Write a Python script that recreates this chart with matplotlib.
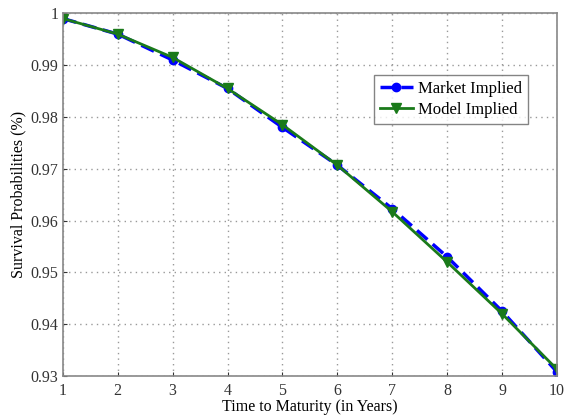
import matplotlib
matplotlib.use('Agg')
import matplotlib.pyplot as plt

# 数据：存活概率
years = [1, 2, 3, 4, 5, 6, 7, 8, 9, 10]
market = [0.9990, 0.9960, 0.9910, 0.9855, 0.9780, 0.9707, 0.9623, 0.9530, 0.9425, 0.9308]
model = [0.9990, 0.9960, 0.9915, 0.9855, 0.9785, 0.9707, 0.9617, 0.9520, 0.9420, 0.9313]
yticks = [0.93, 0.94, 0.95, 0.96, 0.97, 0.98, 0.99, 1]
ylabels = ['0.93', '0.94', '0.95', '0.96', '0.97', '0.98', '0.99', '1']

plt.rcParams['font.family'] = ['Liberation Serif', 'DejaVu Serif']
plt.rcParams['font.size'] = 11.5

fig = plt.figure(figsize=(5.65, 4.17), dpi=100)
ax = fig.add_axes([0.111, 0.098, 0.875, 0.870])

ax.plot(years, market, color='blue', linestyle='--', linewidth=2.5,
        marker='o', markersize=6, dashes=(4, 2), label='Market Implied')
ax.plot(years, model, color='#1a7a1a', linestyle='-', linewidth=2,
        marker='v', markersize=7, label='Model Implied')

ax.set_xlim(1, 10)
ax.set_ylim(0.93, 1)
ax.set_xticks(years)
ax.set_yticks(yticks)
ax.set_yticklabels(ylabels)
ax.grid(True, linestyle=(0, (1, 3)), color='#999999', linewidth=1.0)
ax.tick_params(direction='in', length=3, colors='#333333', pad=3)
ax.tick_params(axis='x', pad=5)
for s in ax.spines.values():
    s.set_color('#888888')
    s.set_linewidth(1.2)

ax.set_xlabel('Time to Maturity (in Years)', labelpad=0)
ax.set_ylabel('Survival Probabilities (%)', labelpad=3)

leg = ax.legend(loc='upper right', bbox_to_anchor=(0.941, 0.829),
                borderaxespad=0, fancybox=False, edgecolor='#666666',
                handlelength=2.0, handletextpad=0.3, borderpad=0.35,
                labelspacing=0.3, fontsize=12)
leg.get_frame().set_linewidth(1.0)

plt.savefig('out.png', dpi=100)
